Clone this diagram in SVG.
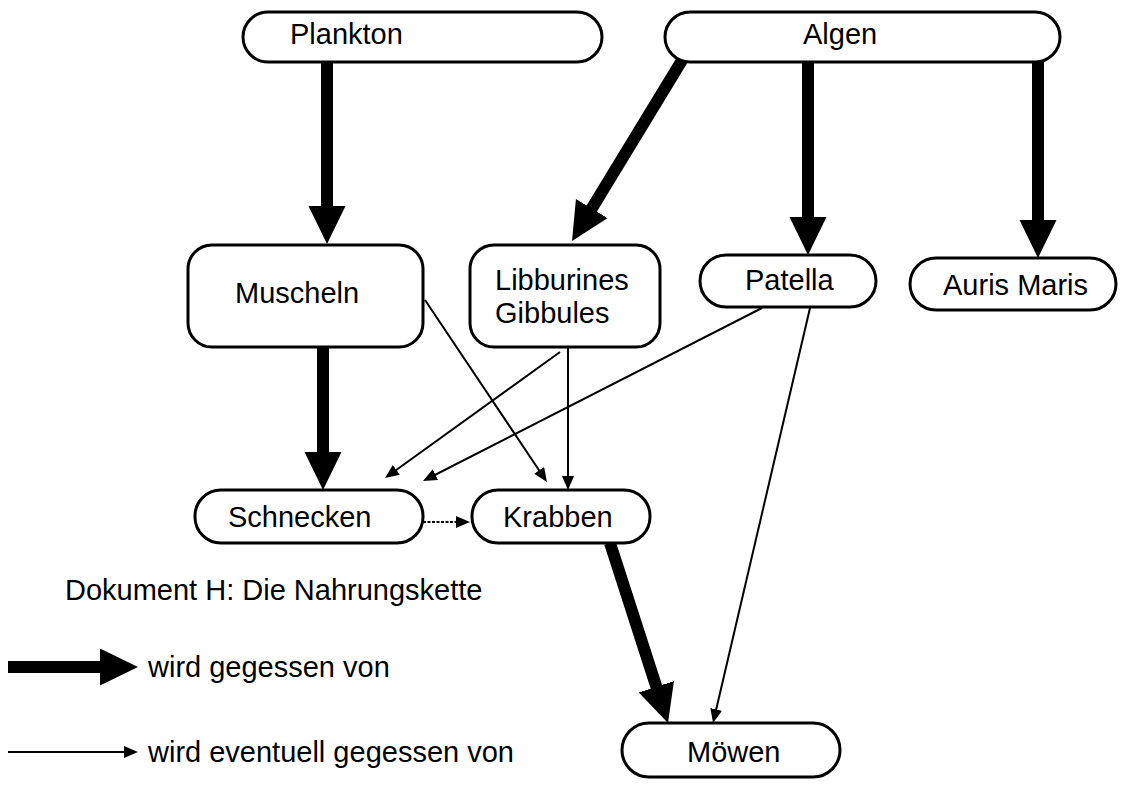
<svg xmlns="http://www.w3.org/2000/svg" width="1121" height="787" viewBox="0 0 1121 787">
<style>
.node{fill:#fff;stroke:#000;stroke-width:3}
.lbl{font-family:"Liberation Sans",Arial,sans-serif;font-size:29px;fill:#000}
.thick{stroke:#000;stroke-width:12;fill:none}
.thin{stroke:#000;stroke-width:2;fill:none}
</style>
<defs>
<marker id="hb" markerUnits="userSpaceOnUse" markerWidth="40" markerHeight="40" refX="8" refY="18.5" orient="auto">
<path d="M0,0 L38,18.5 L0,37 z" fill="#000"/>
</marker>
<marker id="hs" markerUnits="userSpaceOnUse" markerWidth="16" markerHeight="14" refX="4" refY="6" orient="auto">
<path d="M0,0 L14,6 L0,12 z" fill="#000"/>
</marker>
</defs>
<rect width="1121" height="787" fill="#fff"/>
<g id="connectors">
<line class="thick" x1="327" y1="62" x2="327" y2="214" marker-end="url(#hb)"/>
<line class="thick" x1="684" y1="57" x2="587.6" y2="215.4" marker-end="url(#hb)"/>
<line class="thick" x1="808" y1="62" x2="808" y2="225" marker-end="url(#hb)"/>
<line class="thick" x1="1038" y1="62" x2="1038" y2="228" marker-end="url(#hb)"/>
<line class="thick" x1="323" y1="347" x2="323" y2="460" marker-end="url(#hb)"/>
<line class="thick" x1="610" y1="543" x2="658.8" y2="694.4" marker-end="url(#hb)"/>
<line class="thin" x1="425" y1="300" x2="541.4" y2="473.7" marker-end="url(#hs)"/>
<line class="thin" x1="568" y1="347" x2="568" y2="480" marker-end="url(#hs)"/>
<line class="thin" x1="560" y1="352" x2="393.1" y2="472.2" marker-end="url(#hs)"/>
<line class="thin" x1="762" y1="308" x2="431.9" y2="476.5" marker-end="url(#hs)"/>
<line class="thin" x1="810" y1="308" x2="715.3" y2="713.3" marker-end="url(#hs)"/>
<line class="thin" x1="423" y1="522" x2="460" y2="522" stroke-dasharray="3 1.5" marker-end="url(#hs)"/>
</g>
<g id="plankton"><rect class="node" x="243" y="12" width="359" height="50" rx="25"/><text class="lbl" x="290" y="44">Plankton</text></g>
<g id="algen"><rect class="node" x="665" y="12" width="395" height="50" rx="25"/><text class="lbl" x="803" y="44">Algen</text></g>
<g id="muscheln"><rect class="node" x="188" y="245" width="235" height="102" rx="24"/><text class="lbl" x="235" y="303">Muscheln</text></g>
<g id="libburines"><rect class="node" x="470" y="245" width="190" height="102" rx="24"/><text class="lbl" x="495" y="290">Libburines</text><text class="lbl" x="495" y="323">Gibbules</text></g>
<g id="patella"><rect class="node" x="700" y="255" width="176" height="52" rx="26"/><text class="lbl" x="745" y="290">Patella</text></g>
<g id="auris"><rect class="node" x="910" y="258" width="206" height="52" rx="26"/><text class="lbl" x="943" y="295">Auris Maris</text></g>
<g id="schnecken"><rect class="node" x="195" y="490" width="228" height="53" rx="26"/><text class="lbl" x="228" y="527">Schnecken</text></g>
<g id="krabben"><rect class="node" x="472" y="490" width="178" height="53" rx="26"/><text class="lbl" x="503" y="527">Krabben</text></g>
<g id="moewen"><rect class="node" x="622" y="723" width="218" height="54" rx="27"/><text class="lbl" x="687" y="762">Möwen</text></g>
<g id="legend">
<text class="lbl" x="65" y="600">Dokument H: Die Nahrungskette</text>
<line class="thick" x1="8" y1="667" x2="108" y2="667" stroke-width="13" marker-end="url(#hb)"/>
<text class="lbl" x="148" y="677">wird gegessen von</text>
<line class="thin" x1="8" y1="752" x2="128" y2="752" marker-end="url(#hs)"/>
<text class="lbl" x="148" y="762">wird eventuell gegessen von</text>
</g>
</svg>
